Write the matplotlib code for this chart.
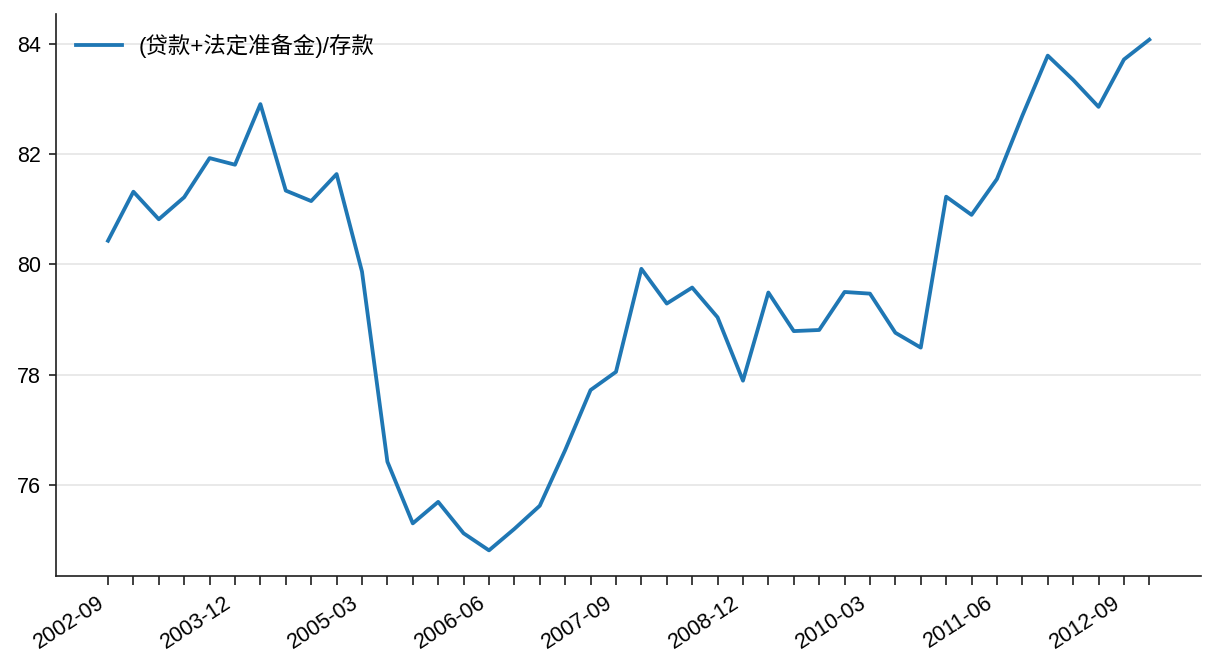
import matplotlib
matplotlib.use("Agg")
import matplotlib.pyplot as plt

plt.rcParams["font.family"] = ["Liberation Sans", "Noto Sans CJK SC", "DejaVu Sans"]
plt.rcParams["axes.unicode_minus"] = False

# quarterly data, 2002-09 .. 2012-12
quarters = []
for year in range(2002, 2013):
    for month in ("03", "06", "09", "12"):
        quarters.append("{}-{}".format(year, month))
quarters = quarters[2:]

ratio = [80.43, 81.32, 80.82, 81.22, 81.93, 81.81, 82.91, 81.34, 81.15, 81.64,
         79.87, 76.42, 75.30, 75.69, 75.12, 74.81, 75.20, 75.62, 76.63, 77.72,
         78.05, 79.92, 79.29, 79.58, 79.04, 77.89, 79.49, 78.79, 78.81, 79.50,
         79.47, 78.76, 78.49, 81.23, 80.90, 81.55, 82.70, 83.79, 83.35, 82.86,
         83.72, 84.08]

label = "(贷款+法定准备金)/存款"

# plot
fig, ax = plt.subplots(figsize=(1216 / 152, 672 / 152), dpi=152)
x = list(range(len(quarters)))
ax.plot(x, ratio, color="#1f77b4", lw=1.8, label=label)

ax.set_xticks(x)
ax.set_xticklabels([q if i % 5 == 0 else "" for i, q in enumerate(quarters)])
for lab in ax.get_xticklabels():
    lab.set_rotation(33)
    lab.set_ha("right")

ax.set_yticks([76, 78, 80, 82, 84])
ax.grid(axis="y", color="#e5e5e5", lw=0.8)
ax.set_axisbelow(True)
ax.spines["top"].set_visible(False)
ax.spines["right"].set_visible(False)
ax.spines["left"].set_color("#222222")
ax.spines["bottom"].set_color("#222222")
ax.tick_params(colors="#222222", labelcolor="black", labelsize=10.2)
ax.tick_params(axis="x", length=4.3)

ax.legend(loc="upper left", frameon=False, handlelength=2.05,
          handletextpad=0.75, fontsize=10.6)

plt.subplots_adjust(left=0.046, right=0.988, top=0.979, bottom=0.143)
plt.savefig("out.png", dpi=152)
